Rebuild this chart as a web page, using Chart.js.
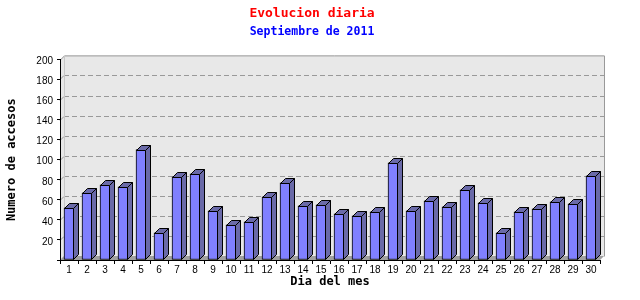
<!DOCTYPE html>
<html>
<head>
<meta charset="utf-8">
<title>Evolucion diaria</title>
<script src="https://cdn.jsdelivr.net/npm/chart.js@4/dist/chart.umd.min.js"></script>
<style>
  html, body { margin: 0; padding: 0; background: #fff; }
  #wrap { width: 640px; height: 300px; }
</style>
</head>
<body>
<div id="wrap"><canvas id="chart" width="640" height="300"></canvas></div>
<script>
// Accesos por dia, septiembre 2011
const dias = ['1','2','3','4','5','6','7','8','9','10','11','12','13','14','15',
              '16','17','18','19','20','21','22','23','24','25','26','27','28','29','30'];
const accesos = [52, 67, 75, 73, 110, 27, 83, 86, 49, 35, 38, 63, 77, 54, 55,
                 46, 44, 48, 97, 49, 59, 53, 70, 57, 27, 48, 51, 58, 56, 84];
const yMin = 0, yMax = 200, yStep = 20;

const PANEL_DEPTH = 4;   // back wall offset
const BAR_DEPTH   = 5;   // bar side/top offset

// Back wall, dashed grid and floor, then the 3D bar faces
const scene3d = {
  id: 'scene3d',
  beforeDraw(chart) {
    const { ctx, chartArea: a, scales: { y } } = chart;
    const L = a.left, R = a.right, T = a.top, B = a.bottom, D = PANEL_DEPTH;
    ctx.save();
    ctx.fillStyle = '#e8e8e8';
    ctx.beginPath();
    ctx.moveTo(L, B); ctx.lineTo(L, T); ctx.lineTo(L + D, T - D);
    ctx.lineTo(R + D, T - D); ctx.lineTo(R + D, B - D); ctx.lineTo(R, B);
    ctx.closePath(); ctx.fill();

    // grid lines on the back wall
    ctx.strokeStyle = '#999';
    ctx.lineWidth = 1;
    for (let v = yMin + yStep; v < yMax; v += yStep) {
      const py = Math.round(y.getPixelForValue(v)) - D + 0.5;
      ctx.setLineDash([5, 3]);
      ctx.beginPath(); ctx.moveTo(L + D, py); ctx.lineTo(R + D, py); ctx.stroke();
      ctx.setLineDash([]);
      ctx.beginPath(); ctx.moveTo(L, py + D); ctx.lineTo(L + D, py); ctx.stroke();
    }

    // floor
    ctx.fillStyle = '#a0a0a0';
    ctx.beginPath();
    ctx.moveTo(L, B); ctx.lineTo(L + D, B - D); ctx.lineTo(R + D, B - D); ctx.lineTo(R, B);
    ctx.closePath(); ctx.fill();

    // wall border
    ctx.strokeStyle = '#999';
    ctx.beginPath();
    ctx.moveTo(L + 0.5, T + 0.5); ctx.lineTo(L + D + 0.5, T - D + 0.5);
    ctx.lineTo(R + D + 0.5, T - D + 0.5); ctx.lineTo(R + D + 0.5, B - D + 0.5);
    ctx.stroke();
    ctx.strokeStyle = '#c8c8c8';
    ctx.beginPath();
    ctx.moveTo(L + D + 0.5, T - D + 0.5); ctx.lineTo(L + D + 0.5, B - D);
    ctx.stroke();
    ctx.restore();
  },
  afterDatasetsDraw(chart) {
    const { ctx } = chart;
    const d = BAR_DEPTH;
    ctx.save();
    ctx.fillStyle = '#6a6aa8';
    ctx.strokeStyle = '#000';
    ctx.lineWidth = 1;
    chart.getDatasetMeta(0).data.forEach(bar => {
      const { x, y, base, width } = bar.getProps(['x', 'y', 'base', 'width'], true);
      const x0 = Math.round(x - width / 2) + 0.5;
      const x1 = Math.round(x + width / 2) - 0.5;
      const yt = Math.round(y) + 0.5;
      const yb = Math.round(base) - 0.5;
      // top face
      ctx.beginPath();
      ctx.moveTo(x0, yt); ctx.lineTo(x0 + d, yt - d); ctx.lineTo(x1 + d, yt - d); ctx.lineTo(x1, yt);
      ctx.closePath(); ctx.fill(); ctx.stroke();
      // side face
      ctx.beginPath();
      ctx.moveTo(x1, yt); ctx.lineTo(x1 + d, yt - d); ctx.lineTo(x1 + d, yb - d); ctx.lineTo(x1, yb);
      ctx.closePath(); ctx.fill(); ctx.stroke();
    });
    ctx.restore();
  }
};

const tickFont  = { family: "'Liberation Sans', Arial, sans-serif", size: 10 };
const titleFont = { family: "'DejaVu Sans Mono', monospace", weight: 'bold' };

new Chart(document.getElementById('chart'), {
  type: 'bar',
  data: {
    labels: dias,
    datasets: [{
      data: accesos,
      backgroundColor: '#8080ff',
      borderColor: '#000',
      borderWidth: 1,
      borderSkipped: false,
      barThickness: 10,
    }],
  },
  options: {
    responsive: false,
    devicePixelRatio: 1,
    animation: false,
    layout: { padding: { left: 0, right: 16, top: 0, bottom: 0 } },
    plugins: {
      legend: { display: false },
      tooltip: { enabled: false },
      title: {
        display: true,
        text: 'Evolucion diaria',
        color: '#ff0000',
        font: { ...titleFont, size: 13 },
        padding: { top: 6, bottom: 1 },
      },
      subtitle: {
        display: true,
        text: 'Septiembre de 2011',
        color: '#0000ff',
        font: { ...titleFont, size: 11.5 },
        padding: { top: 3, bottom: 20 },
      },
    },
    scales: {
      x: {
        grid: { offset: true, drawOnChartArea: false, tickLength: 4, color: '#000' },
        border: { color: '#000' },
        ticks: { color: '#000', font: tickFont, padding: 0, maxRotation: 0, autoSkip: false },
        title: {
          display: true,
          text: 'Dia del mes',
          color: '#000',
          font: { ...titleFont, size: 12 },
          padding: { top: 11, bottom: 11 },
        },
        afterFit: s => { s.height = 40; },
      },
      y: {
        min: yMin,
        max: yMax,
        grid: { drawOnChartArea: false, tickLength: 3, color: '#000' },
        border: { color: '#000' },
        ticks: {
          stepSize: yStep,
          color: '#000',
          font: tickFont,
          padding: 4,
          labelOffset: 2,
          callback: v => (v === 0 ? '' : v),
        },
        title: {
          display: true,
          text: 'Numero de accesos',
          color: '#000',
          font: { ...titleFont, size: 12 },
          padding: { top: 5, bottom: 5 },
        },
        afterFit: s => { s.width = 60; },
      },
      // empty right margin so the titles centre like the original
      margen: {
        position: 'right',
        display: true,
        grid: { display: false },
        border: { display: false },
        ticks: { display: false },
        afterFit: s => { s.width = 24; },
      },
    },
  },
  plugins: [scene3d],
});
</script>
</body>
</html>
